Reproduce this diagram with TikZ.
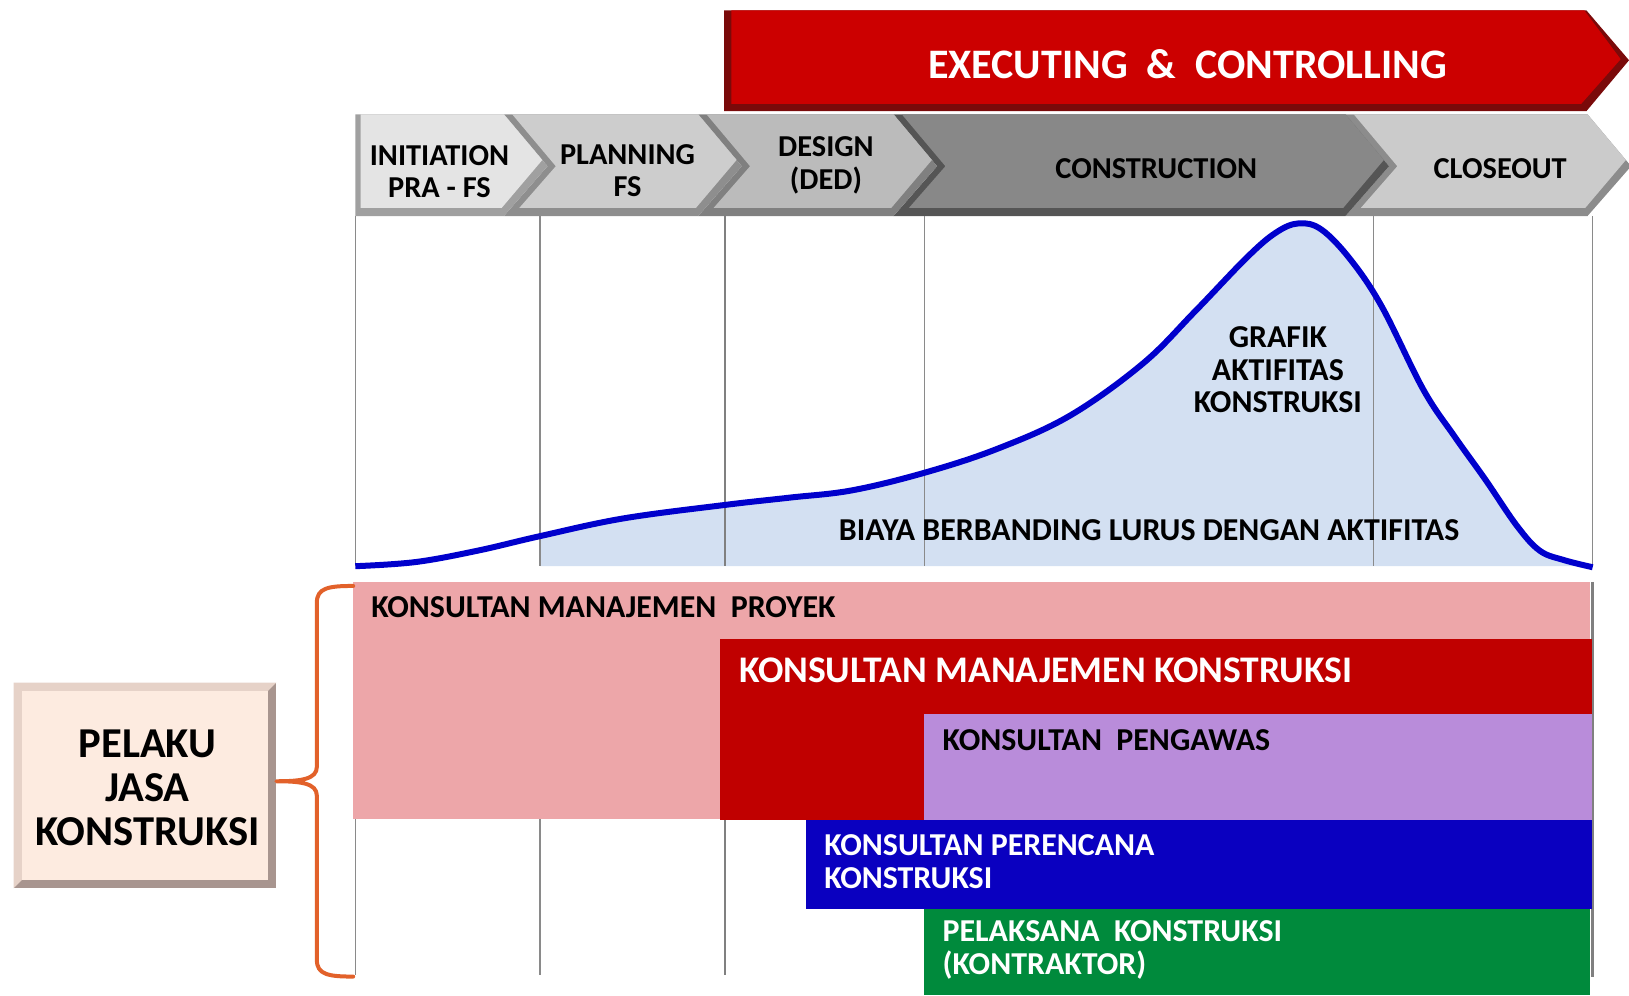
\documentclass[tikz,border=0pt]{standalone}
\usepackage{fontspec}
\setmainfont{Carlito}
\usetikzlibrary{calc}
\definecolor{redmain}{HTML}{CC0000}
\definecolor{reddark}{HTML}{7A0A0A}
\definecolor{chA}{HTML}{E4E4E4}
\definecolor{chAd}{HTML}{A0A0A0}
\definecolor{chB}{HTML}{CDCDCD}
\definecolor{chBd}{HTML}{8E8E8E}
\definecolor{chC}{HTML}{BBBBBB}
\definecolor{chCd}{HTML}{808080}
\definecolor{chD}{HTML}{888888}
\definecolor{chDd}{HTML}{555555}
\definecolor{chE}{HTML}{CBCBCB}
\definecolor{chEd}{HTML}{8C8C8C}
\definecolor{gridgrey}{HTML}{8A8A8A}
\definecolor{curveblue}{HTML}{0000CC}
\definecolor{areafill}{HTML}{D3E0F2}
\definecolor{pinkbox}{HTML}{EDA6A9}
\definecolor{kmkred}{HTML}{C00000}
\definecolor{purplebox}{HTML}{B98CDA}
\definecolor{bluebox}{HTML}{0A00C0}
\definecolor{greenbox}{HTML}{008A3C}
\definecolor{pelfill}{HTML}{FDEBE0}
\definecolor{peldark}{HTML}{A8958F}
\definecolor{pellight}{HTML}{E6D2C8}
\definecolor{braceorange}{HTML}{E2612A}
\newcommand\chevdraw[4]{%
  \fill[#4] (#1,110) -- (#2,110) -- (#2+42,160) -- (#2,208) -- (#1,208) -- (#1+42,160) -- cycle;
  \fill[#3] (#1+8,110) -- (#2,110) -- (#2+37,154) -- (#2-2,200) -- (#1+15,200) -- (#1+50,160) -- cycle;
}
\begin{document}
\begin{tikzpicture}[x=0.5195pt,y=-0.5195pt,
  lbl/.style={inner sep=0pt, align=center, text=black, font=\fontsize{15.2}{16.2}\selectfont\bfseries},
  boxlbl/.style={inner sep=0pt, align=left, anchor=west, font=\fontsize{15.95}{16.4}\selectfont\bfseries},
  chartlbl/.style={inner sep=0pt, align=center, text=black, font=\fontsize{15.95}{16.4}\selectfont\bfseries},
  vline/.style={draw=gridgrey, line width=0.8pt},
  brace/.style={draw=braceorange, line width=2pt, line cap=round, line join=round}]
\useasboundingbox (0,0) rectangle (1568,958);

% red banner
\fill[reddark] (697,10) -- (1527,10) -- (1568,58) -- (1527,107) -- (697,107) -- cycle;
\fill[redmain] (704,10) -- (1525,10) -- (1560,57) -- (1522,100) -- (704,100) -- cycle;
\node[inner sep=0pt, text=white, font=\fontsize{21}{22}\selectfont\bfseries] (exec) at (1143,62) {EXECUTING \ \& \ CONTROLLING};

% chevrons (right to left)
\chevdraw{1295}{1528}{chE}{chEd}
\chevdraw{860}{1295}{chD}{chDd}
\chevdraw{672}{860}{chC}{chCd}
\chevdraw{485}{672}{chB}{chBd}
\fill[chAd] (342,110) -- (485,110) -- (527,160) -- (485,208) -- (342,208) -- cycle;
\fill[chA] (347,110) -- (485,110) -- (522,154) -- (483,200) -- (347,200) -- cycle;

\node[lbl] (init) at (423,165) {INITIATION\\PRA - FS};
\node[lbl] (plan) at (604,164) {PLANNING\\FS};
\node[lbl] (design) at (795,159) {DESIGN\\(DED)};
\node[lbl] (constr) at (1113,162) {CONSTRUCTION};
\node[lbl] (close) at (1444,162) {CLOSEOUT};

% area under curve
\begin{scope}
  \clip (520,200) rectangle (1540,545);
  \fill[areafill] plot[smooth, tension=0.6] coordinates {(342,545) (400,541) (460,530) (520,516) (600,499) (698,486) (760,479) (820,472) (890,455) (960,432) (1030,400) (1100,350) (1150,300) (1200,248) (1228,224) (1250,215) (1272,221) (1300,250) (1330,295) (1370,375) (1400,420) (1430,462) (1460,506) (1482,530) (1505,539) (1533,546)} -- (1533,545) -- (342,545) -- cycle;
\end{scope}

% vertical grid lines
\foreach \xx in {342,520,890,1322,1533} { \draw[vline] (\xx,208) -- (\xx,545); }
\draw[vline, line width=1.3pt, draw=gray] (698,208) -- (698,545);
\foreach \xx in {342,520} { \draw[vline] (\xx,788) -- (\xx,938); }
\draw[vline, line width=1.3pt, draw=gray] (698,788) -- (698,938);
\draw[vline, line width=1.3pt, draw=gray] (1533,560) -- (1533,940);

% curve
\draw[curveblue, line width=3pt, line join=round] plot[smooth, tension=0.6] coordinates {(342,545) (400,541) (460,530) (520,516) (600,499) (698,486) (760,479) (820,472) (890,455) (960,432) (1030,400) (1100,350) (1150,300) (1200,248) (1228,224) (1250,215) (1272,221) (1300,250) (1330,295) (1370,375) (1400,420) (1430,462) (1460,506) (1482,530) (1505,539) (1533,546)};

\node[chartlbl] (grafik) at (1230,356) {GRAFIK\\AKTIFITAS\\KONSTRUKSI};
\node[chartlbl] (biaya) at (1106,510) {BIAYA BERBANDING LURUS DENGAN AKTIFITAS};

% role boxes
\fill[pinkbox] (340,560) rectangle (1530,788);
\fill[kmkred] (693,615) rectangle (1532,789);
\fill[purplebox] (889,687) rectangle (1532,789);
\fill[bluebox] (776,789) rectangle (1532,875);
\fill[greenbox] (889,875) rectangle (1530,958);

\node[boxlbl, text=black] (kmp) at (357,584) {KONSULTAN MANAJEMEN \ PROYEK};
\node[boxlbl, text=white, font=\fontsize{18.8}{19}\selectfont\bfseries] (kmk) at (711,645) {KONSULTAN MANAJEMEN KONSTRUKSI};
\node[boxlbl, text=black] (peng) at (907,712) {KONSULTAN \ PENGAWAS};
\node[boxlbl, text=white] (peren) at (793,829.5) {KONSULTAN PERENCANA\\KONSTRUKSI};
\node[boxlbl, text=white] (pelak) at (907,914.5) {PELAKSANA \ KONSTRUKSI\\(KONTRAKTOR)};

% pelaku box
\fill[peldark] (13,657) rectangle (266,855);
\fill[pellight] (13,657) -- (266,657) -- (258,665) -- (21,665) -- (21,847) -- (13,855) -- cycle;
\fill[pelfill] (21,665) rectangle (258,847);
\node[inner sep=0pt, align=center, font=\fontsize{21.3}{22}\selectfont\bfseries] (pelaku) at (142,758) {PELAKU\\JASA\\KONSTRUKSI};
\coordinate (bracetip) at (266,752);
\coordinate (bracetop) at (340,564);
\coordinate (bracebot) at (340,940);

% brace
\draw[brace] (bracetop) .. controls (316,564) and (305,566) .. (305,580) -- (305,738)
  .. controls (305,750) and (290,752) .. (bracetip)
  .. controls (290,752) and (305,754) .. (305,766) -- (305,924)
  .. controls (305,938) and (316,940) .. (bracebot);
\end{tikzpicture}
\end{document}
